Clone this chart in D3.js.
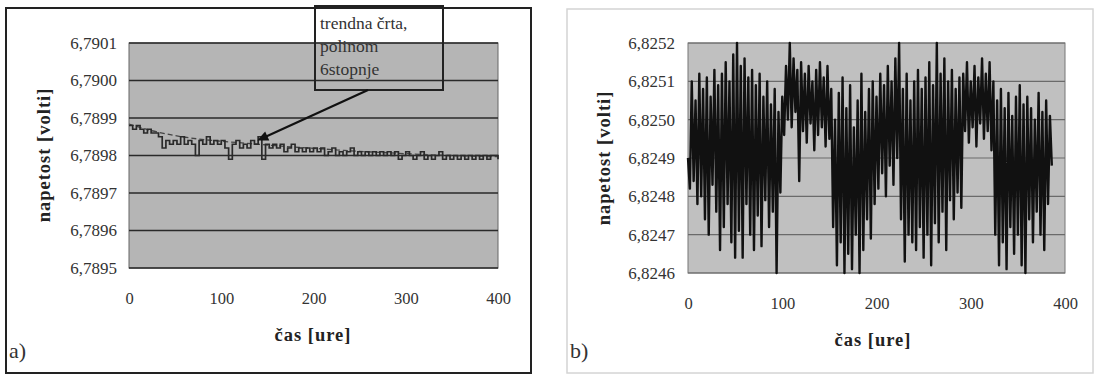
<!DOCTYPE html>
<html><head><meta charset="utf-8">
<script src="https://cdn.jsdelivr.net/npm/d3@7"></script>
<style>
body{margin:0;background:#fff;}
svg{display:block;}
svg text{font-family:"Liberation Serif","Times New Roman","DejaVu Serif","Noto Serif",Times,serif !important;}
</style></head><body>
<svg id="c" width="1101" height="375"></svg>
<script>
// ---------- Panel a data ----------
const hoursA = d3.range(0, 401, 4);
const voltA = [6.78988,6.78987,6.78988,6.78987,6.78986,6.78987,6.78986,6.78986,6.78985,6.78982,
6.78984,6.78983,6.78984,6.78983,6.78985,6.78983,6.78984,6.78983,6.78980,6.78984,
6.78983,6.78985,6.78983,6.78984,6.78983,6.78984,6.78982,6.78979,6.78983,6.78984,
6.78982,6.78983,6.78982,6.78984,6.78983,6.78985,6.78979,6.78983,6.78982,6.78983,
6.78982,6.78983,6.78981,6.78982,6.78983,6.78981,6.78982,6.78981,6.78982,6.78981,
6.78982,6.78981,6.78982,6.78980,6.78981,6.78982,6.78980,6.78981,6.78980,6.78981,
6.78982,6.78980,6.78981,6.78980,6.78981,6.78980,6.78981,6.78980,6.78981,6.78980,
6.78981,6.78980,6.78981,6.78979,6.78980,6.78981,6.78980,6.78979,6.78980,6.78981,
6.78979,6.78980,6.78979,6.78980,6.78981,6.78979,6.78980,6.78979,6.78980,6.78979,
6.78980,6.78979,6.78980,6.78979,6.78980,6.78979,6.78980,6.78979,6.78980,6.78980,6.78979];
const trendHours = [0,25,50,75,100,125,150,175,200,225,250,275,300,325,350,375,400];
const trendA = [6.789884,6.789866,6.789853,6.789844,6.789838,6.789833,6.789828,6.789823,6.789819,
6.789815,6.789811,6.789808,6.789805,6.789802,6.789800,6.789798,6.789797];
const yTicksA = [6.7895,6.7896,6.7897,6.7898,6.7899,6.7900,6.7901];
const xTicks = [0,100,200,300,400];
const annotLines = ["trendna črta,","polinom","6stopnje"];

// ---------- Panel b data ----------
const hoursB = d3.range(0, 387, 2);
const voltB = [
6.82490,6.82482,6.82510,6.82484,6.82505,6.82478,6.82512,6.82480,6.82508,6.82474,
6.82511,6.82470,6.82506,6.82483,6.82513,6.82476,6.82509,6.82466,6.82512,6.82472,
6.82515,6.82478,6.82510,6.82468,6.82517,6.82464,6.82520,6.82471,6.82514,6.82464,
6.82516,6.82478,6.82511,6.82470,6.82513,6.82466,6.82509,6.82475,6.82512,6.82467,
6.82506,6.82479,6.82510,6.82472,6.82504,6.82476,6.82508,6.82460,6.82502,6.82481,
6.82506,6.82496,6.82514,6.82500,6.82520,6.82498,6.82516,6.82502,6.82513,6.82484,
6.82515,6.82497,6.82512,6.82494,6.82514,6.82499,6.82510,6.82492,6.82513,6.82496,
6.82515,6.82498,6.82511,6.82493,6.82514,6.82495,
6.82508,6.82472,6.82500,6.82462,6.82507,6.82468,6.82511,6.82460,6.82503,6.82465,
6.82509,6.82461,6.82498,6.82470,6.82505,6.82460,6.82512,6.82466,6.82502,6.82474,
6.82508,6.82469,6.82510,6.82478,6.82506,
6.82482,6.82512,6.82486,6.82509,6.82480,6.82514,6.82488,6.82510,6.82483,6.82516,6.82490,6.82520,
6.82474,6.82508,6.82463,6.82512,6.82470,6.82505,6.82468,6.82510,6.82466,6.82513,
6.82472,6.82508,6.82464,6.82511,6.82470,6.82515,6.82462,6.82509,6.82473,6.82520,
6.82468,6.82512,6.82476,6.82516,6.82466,6.82510,6.82479,6.82513,6.82474,6.82508,
6.82481,6.82511,6.82477,
6.82512,6.82497,6.82515,6.82494,6.82510,6.82498,6.82514,6.82493,6.82511,6.82499,
6.82516,6.82495,6.82512,6.82497,6.82515,6.82492,6.82510,
6.82470,6.82505,6.82462,6.82508,6.82468,6.82503,6.82461,6.82507,6.82472,6.82501,
6.82465,6.82506,6.82470,6.82509,6.82462,6.82504,6.82460,6.82506,6.82474,6.82503,
6.82468,6.82500,6.82476,6.82507,6.82470,6.82502,6.82466,6.82505,6.82478,6.82501,6.82488];
const yTicksB = [6.8246,6.8247,6.8248,6.8249,6.8250,6.8251,6.8252];

const fmt = v => v.toFixed(4).replace(".", ",");
const svg = d3.select("#c");

// ---------- panel frames ----------
svg.append("rect").attr("x",6).attr("y",8).attr("width",525).attr("height",365)
  .attr("fill","#fff").attr("stroke","#222").attr("stroke-width",2);
svg.append("rect").attr("x",567).attr("y",9).attr("width",526).attr("height",364)
  .attr("fill","#fff").attr("stroke","#d4d4d4").attr("stroke-width",1.5);

function panel(o){
  const x = d3.scaleLinear().domain([0,400]).range([o.x0,o.x1]);
  const y = d3.scaleLinear().domain([o.yTicks[0], o.yTicks[o.yTicks.length-1]]).range([o.y1,o.y0]);
  const g = svg.append("g");
  g.append("rect").attr("x",o.x0).attr("y",o.y0).attr("width",o.x1-o.x0).attr("height",o.y1-o.y0)
    .attr("fill",o.bg).attr("stroke",o.border).attr("stroke-width",1);
  g.selectAll("line.grid").data(o.yTicks).join("line").attr("class","grid")
    .attr("x1",o.x0).attr("x2",o.x1).attr("y1",d=>y(d)).attr("y2",d=>y(d))
    .attr("stroke",o.grid).attr("stroke-width",o.gridW);
  const ya = g.append("g").attr("transform",`translate(${o.x0},0)`)
    .call(d3.axisLeft(y).tickValues(o.yTicks).tickFormat(fmt).tickSize(0).tickPadding(o.x0-o.yLabX));
  ya.select(".domain").remove();
  ya.selectAll("text").attr("font-size",17).attr("fill","#333");
  const xa = g.append("g").attr("transform",`translate(0,${o.y1})`)
    .call(d3.axisBottom(x).tickValues(xTicks).tickFormat(d3.format("d")).tickSize(0).tickPadding(o.xLabPad));
  xa.select(".domain").remove();
  xa.selectAll("text").attr("font-size",16.5).attr("fill","#333");
  g.append("text").attr("x",o.xtX).attr("y",o.xtY).attr("text-anchor","middle")
    .attr("font-weight","bold").attr("font-size",18.5).attr("letter-spacing",1).attr("fill","#222").text("čas [ure]");
  g.append("text").attr("transform",`translate(${o.ytX},${o.ytY}) rotate(-90)`).attr("text-anchor","middle")
    .attr("font-weight","bold").attr("font-size",18.5).attr("letter-spacing",1).attr("fill","#222").text("napetost [volti]");
  g.append("text").attr("x",o.lbX).attr("y",358).attr("font-size",22).attr("fill","#333").text(o.label);
  return {x,y,g};
}

// ---------- Panel a ----------
const A = panel({x0:129,x1:498,y0:43,y1:268,yTicks:yTicksA,bg:"#b5b5b5",border:"#666",grid:"#2a2a2a",gridW:1.3,
  yLabX:117,xLabPad:24,xtX:313,xtY:341,ytX:50,ytY:155,lbX:9,label:"a)"});
A.g.append("path").datum(trendHours.map((h,i)=>[h,trendA[i]]))
  .attr("d",d3.line().x(d=>A.x(d[0])).y(d=>A.y(d[1])).curve(d3.curveMonotoneX))
  .attr("fill","none").attr("stroke","#444").attr("stroke-width",1.3).attr("stroke-dasharray","5,3");
A.g.append("path").datum(hoursA.map((h,i)=>[h,voltA[i]]))
  .attr("d",d3.line().x(d=>A.x(d[0])).y(d=>A.y(d[1])).curve(d3.curveStepAfter))
  .attr("fill","none").attr("stroke","#2a2a2a").attr("stroke-width",1.7);

// annotation box + arrow
const bx0=315,by0=6,bx1=443,by1=90;
svg.append("rect").attr("x",bx0).attr("y",by0).attr("width",bx1-bx0).attr("height",by1-by0)
  .attr("fill","none").attr("stroke","#222").attr("stroke-width",2);
svg.selectAll("text.annot").data(annotLines).join("text").attr("class","annot")
  .attr("x",bx0+5).attr("y",(d,i)=>29+i*23).attr("font-size",17.5).attr("fill","#333").text(d=>d);
const tipX = A.x(139), tipY = A.y(6.78984);
const sx = 368, sy = by1;
const ang = Math.atan2(tipY-sy, tipX-sx);
svg.append("line").attr("x1",sx).attr("y1",sy).attr("x2",tipX-Math.cos(ang)*8).attr("y2",tipY-Math.sin(ang)*8)
  .attr("stroke","#111").attr("stroke-width",2.2);
const hl=11, hw=5;
const p = [[tipX,tipY],
  [tipX-Math.cos(ang)*hl+Math.sin(ang)*hw, tipY-Math.sin(ang)*hl-Math.cos(ang)*hw],
  [tipX-Math.cos(ang)*hl-Math.sin(ang)*hw, tipY-Math.sin(ang)*hl+Math.cos(ang)*hw]];
svg.append("path").attr("d","M"+p.join("L")+"Z").attr("fill","#111");

// ---------- Panel b ----------
const B = panel({x0:688,x1:1065,y0:43,y1:273,yTicks:yTicksB,bg:"#c0c0c0",border:"#777",grid:"#6a6a6a",gridW:1.2,
  yLabX:675,xLabPad:24,xtX:873,xtY:346,ytX:610,ytY:158,lbX:570,label:"b)"});
B.g.append("path").datum(hoursB.map((h,i)=>[h,voltB[i]]))
  .attr("d",d3.line().x(d=>B.x(d[0])).y(d=>B.y(d[1])))
  .attr("fill","none").attr("stroke","#111").attr("stroke-width",2.4).attr("stroke-linejoin","round");
</script></body></html>
